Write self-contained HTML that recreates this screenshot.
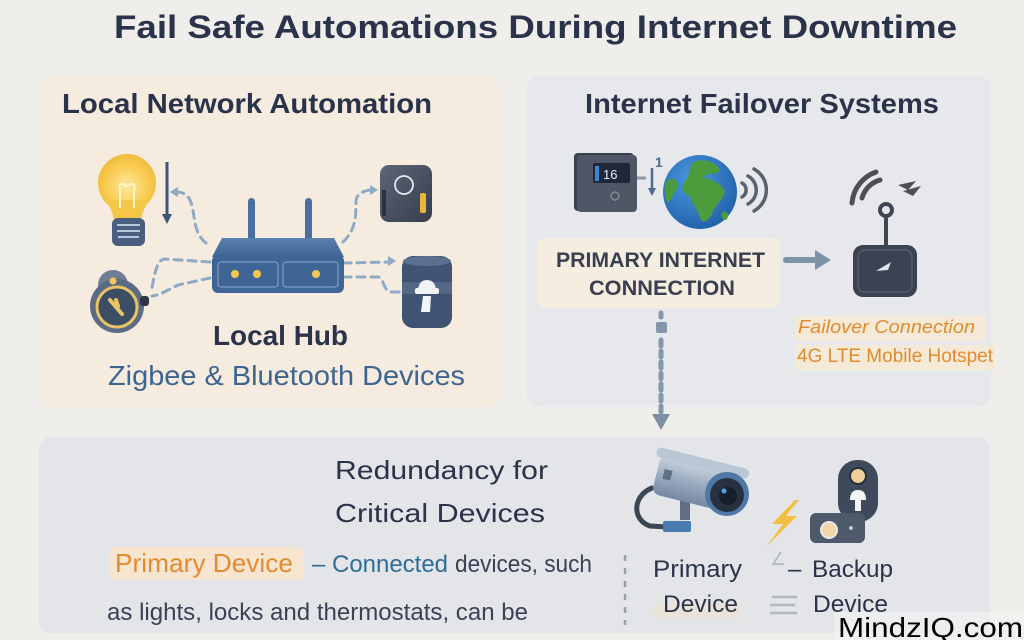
<!DOCTYPE html>
<html>
<head>
<meta charset="utf-8">
<style>
  html,body{margin:0;padding:0;background:#efeeeb;}
  svg{display:block;}
  text{font-family:"Liberation Sans","DejaVu Sans",sans-serif;}
</style>
</head>
<body>
<svg width="1024" height="640" viewBox="0 0 1024 640" xmlns="http://www.w3.org/2000/svg">
  <defs>
    <radialGradient id="bulbG" cx="0.5" cy="0.55" r="0.6">
      <stop offset="0" stop-color="#fde7a0"/>
      <stop offset="0.6" stop-color="#f8cc4f"/>
      <stop offset="1" stop-color="#f0b63a"/>
    </radialGradient>
    <linearGradient id="routerTop" x1="0" y1="0" x2="0" y2="1">
      <stop offset="0" stop-color="#5a80ad"/>
      <stop offset="1" stop-color="#3f6596"/>
    </linearGradient>
    <linearGradient id="darkDev" x1="0" y1="0" x2="1" y2="1">
      <stop offset="0" stop-color="#5d6678"/>
      <stop offset="1" stop-color="#363e4c"/>
    </linearGradient>
    <linearGradient id="camG" x1="0" y1="0" x2="0" y2="1">
      <stop offset="0" stop-color="#c9d3df"/>
      <stop offset="0.5" stop-color="#9aabc0"/>
      <stop offset="1" stop-color="#7689a2"/>
    </linearGradient>
    <radialGradient id="globeG" cx="0.4" cy="0.35" r="0.7">
      <stop offset="0" stop-color="#4a9ae0"/>
      <stop offset="1" stop-color="#1f5fa8"/>
    </radialGradient>
  </defs>

  <rect width="1024" height="640" fill="#efeeeb"/>

  <!-- Title -->
  <text x="114" y="38" font-size="32" font-weight="bold" fill="#2a3349" textLength="843" lengthAdjust="spacingAndGlyphs">Fail Safe Automations During Internet Downtime</text>

  <!-- Panels -->
  <rect x="40" y="77" width="459" height="330" rx="12" fill="#f5ebde"/>
  <rect x="527" y="76" width="464" height="331" rx="12" fill="#e6e8ec"/>
  <rect x="39" y="437" width="951" height="196" rx="12" fill="#e3e5e9"/>

  <!-- ===== Left panel ===== -->
  <text x="62" y="113" font-size="28" font-weight="bold" fill="#2a3349" textLength="370" lengthAdjust="spacingAndGlyphs">Local Network Automation</text>

  <!-- dashed connectors -->
  <g fill="none" stroke="#8eaac6" stroke-width="3" stroke-dasharray="8 6" stroke-linecap="round">
    <path d="M206,243 C192,232 196,214 190,200 C187,194 182,192 176,192"/>
    <path d="M210,262 L165,259 C158,259 155,270 152,288"/>
    <path d="M210,278 L178,285 C168,290 160,295 152,296"/>
    <path d="M343,242 C356,230 356,215 356,202 C356,194 364,190 372,190"/>
    <path d="M343,263 L390,262"/>
    <path d="M343,277 L378,277 C384,277 383,292 392,292 L402,292"/>
  </g>
  <polygon points="170,192 178,187 178,197" fill="#8eaac6"/>
  <polygon points="378,190 370,185 370,195" fill="#8eaac6"/>
  <polygon points="396,261 388,256 388,266" fill="#8eaac6"/>

  <!-- bulb -->
  <circle cx="127" cy="183" r="29" fill="url(#bulbG)"/>
  <path d="M106,200 Q113,212 114,220 L141,220 Q142,212 149,200 Z" fill="#f5c648"/>
  <path d="M120,208 L120,190 Q118,183 124,184 Q127,188 130,184 Q136,183 134,190 L134,208" fill="none" stroke="#fff3c8" stroke-width="2"/>
  <rect x="112" y="218" width="33" height="28" rx="6" fill="#4a5e80"/>
  <g stroke="#b8c6da" stroke-width="2">
    <line x1="117" y1="225" x2="140" y2="225"/>
    <line x1="117" y1="231" x2="140" y2="231"/>
    <line x1="118" y1="237" x2="139" y2="237"/>
  </g>

  <!-- vertical arrow -->
  <line x1="167" y1="162" x2="167" y2="216" stroke="#3d5578" stroke-width="3"/>
  <polygon points="162,214 172,214 167,224" fill="#3d5578"/>

  <!-- lock device bottom-left -->
  <circle cx="113" cy="285" r="15" fill="#6f7d95"/>
  <circle cx="117" cy="306" r="27" fill="#5b6b85"/>
  <circle cx="113" cy="281" r="3.5" fill="#f0c95a"/>
  <rect x="140" y="296" width="9" height="10" rx="3" fill="#2e3646"/>
  <circle cx="117" cy="307" r="20" fill="#3c4d66" stroke="#e8c463" stroke-width="3"/>
  <path d="M110,300 L122,314 M116,300 L118,306" stroke="#e8c463" stroke-width="4" stroke-linecap="round"/>

  <!-- router -->
  <rect x="248" y="198" width="7" height="44" rx="3.5" fill="#4a6fa0"/>
  <rect x="305" y="198" width="7" height="44" rx="3.5" fill="#4a6fa0"/>
  <polygon points="222,238 334,238 344,257 212,257" fill="url(#routerTop)"/>
  <rect x="212" y="255" width="132" height="38" rx="6" fill="#3f6596"/>
  <rect x="218" y="262" width="60" height="25" rx="3" fill="none" stroke="#7e9ec4" stroke-width="1.2"/>
  <rect x="283" y="262" width="55" height="25" rx="3" fill="none" stroke="#7e9ec4" stroke-width="1.2"/>
  <circle cx="235" cy="274" r="4" fill="#f4c84f"/>
  <circle cx="257" cy="274" r="4" fill="#f4c84f"/>
  <circle cx="316" cy="274" r="4" fill="#f4c84f"/>

  <!-- top-right sensor -->
  <rect x="380" y="165" width="52" height="57" rx="9" fill="url(#darkDev)"/>
  <circle cx="404" cy="185" r="9" fill="none" stroke="#e6e8ee" stroke-width="1.8"/>
  <rect x="420" y="193" width="6" height="20" rx="2" fill="#e8b73c"/>
  <rect x="382" y="190" width="4" height="26" fill="#2c323d"/>

  <!-- bottom-right lock cylinder -->
  <rect x="402" y="256" width="50" height="72" rx="11" fill="#3f5372"/>
  <ellipse cx="427" cy="261" rx="24" ry="5" fill="#5b6f8e"/>
  <rect x="402" y="282" width="50" height="12" fill="#536886"/>
  <path d="M418,292 Q418,280 427,280 Q436,280 436,292 Z" fill="#f2f3f5"/>
  <rect x="415" y="288" width="24" height="6" rx="2" fill="#f2f3f5"/>
  <path d="M423,296 L431,296 L430,312 L421,312 Z" fill="#f2f3f5"/>

  <text x="213" y="345" font-size="28" font-weight="bold" fill="#2a3349" textLength="135" lengthAdjust="spacingAndGlyphs">Local Hub</text>
  <text x="108" y="385" font-size="28" fill="#3d6590" textLength="357" lengthAdjust="spacingAndGlyphs">Zigbee &amp; Bluetooth Devices</text>

  <!-- ===== Right panel ===== -->
  <text x="585" y="113" font-size="28" font-weight="bold" fill="#2a3349" textLength="354" lengthAdjust="spacingAndGlyphs">Internet Failover Systems</text>

  <!-- modem -->
  <rect x="574" y="153" width="60" height="58" rx="4" fill="#3a414e"/>
  <rect x="577" y="155" width="60" height="57" rx="4" fill="#4f5766"/>
  <rect x="593" y="163" width="37" height="20" rx="2" fill="#1f2838"/>
  <rect x="595" y="166" width="4" height="15" fill="#3a86d8"/>
  <text x="603" y="179" font-size="13" fill="#e8eef6">16</text>
  <circle cx="615" cy="196" r="4" fill="none" stroke="#8b93a0" stroke-width="1.2"/>
  <line x1="637" y1="178" x2="646" y2="178" stroke="#8f9aa8" stroke-width="3"/>
  <!-- small arrows -->
  <line x1="652" y1="168" x2="652" y2="190" stroke="#4d6a92" stroke-width="2.5"/>
  <polygon points="648,188 656,188 652,196" fill="#4d6a92"/>
  <text x="655" y="167" font-size="14" font-weight="bold" fill="#4d6a92">1</text>

  <!-- globe -->
  <circle cx="700" cy="192" r="37" fill="url(#globeG)"/>
  <path d="M694,162 C704,158 716,162 720,170 C716,176 708,172 703,177 C712,180 722,183 725,192 C722,202 714,206 712,214 C708,222 702,224 700,218 C698,210 692,204 690,196 C682,194 680,186 686,180 C690,176 688,168 694,162 Z" fill="#4c9b3c"/>
  <path d="M668,180 C674,176 680,182 676,190 C672,196 670,206 666,200 C664,192 664,184 668,180 Z" fill="#4c9b3c"/>
  <path d="M722,212 C728,210 730,216 726,220 C722,220 720,216 722,212 Z" fill="#4c9b3c"/>

  <!-- wifi arcs near globe -->
  <g fill="none" stroke="#5a616c" stroke-width="3.5" stroke-linecap="round">
    <path d="M742,183 A8,8 0 0 1 742,197"/>
    <path d="M748,176 A16,16 0 0 1 748,204"/>
    <path d="M754,169 A24,24 0 0 1 754,211"/>
  </g>

  <!-- primary internet box -->
  <rect x="537" y="238" width="243" height="70" rx="8" fill="#f6ede1"/>
  <text x="556" y="267" font-size="21" font-weight="bold" fill="#3a3f50" textLength="209" lengthAdjust="spacingAndGlyphs">PRIMARY INTERNET</text>
  <text x="589" y="295" font-size="21" font-weight="bold" fill="#3a3f50" textLength="146" lengthAdjust="spacingAndGlyphs">CONNECTION</text>

  <!-- arrow to hotspot -->
  <line x1="786" y1="260" x2="818" y2="260" stroke="#7f93a8" stroke-width="6" stroke-linecap="round"/>
  <polygon points="815,250 831,260 815,270" fill="#7f93a8"/>

  <!-- hotspot -->
  <g fill="none" stroke="#4f4e57" stroke-width="5" stroke-linecap="round">
    <path d="M862,198 A26,26 0 0 1 880,180"/>
    <path d="M852,203 A36,36 0 0 1 876,172"/>
  </g>
  <path d="M898,185 L916,181 L908,190 Z M903,191 L921,186 L913,196 Z" fill="#4f4e57"/>
  <line x1="886" y1="215" x2="886" y2="247" stroke="#3f4552" stroke-width="4"/>
  <circle cx="886" cy="210" r="6" fill="none" stroke="#3f4552" stroke-width="4"/>
  <rect x="853" y="245" width="64" height="52" rx="10" fill="#3b4352"/>
  <rect x="858" y="250" width="54" height="42" rx="7" fill="none" stroke="#5a6372" stroke-width="1.2"/>
  <path d="M876,271 L888,270 L891,262 Z" fill="#dfe3ea"/>

  <!-- failover labels -->
  <rect x="795" y="316" width="190" height="25" fill="#f5e9d8"/>
  <text x="798" y="333" font-size="18" font-style="italic" fill="#e08c2e" textLength="177" lengthAdjust="spacingAndGlyphs">Failover Connection</text>
  <rect x="795" y="345" width="200" height="25" fill="#f5e9d8"/>
  <text x="797" y="362" font-size="19" fill="#e08c2e" textLength="196" lengthAdjust="spacingAndGlyphs">4G LTE Mobile Hotspet</text>

  <!-- dashed vertical arrow -->
  <line x1="661" y1="313" x2="661" y2="317" stroke="#8496ac" stroke-width="5" stroke-linecap="round"/>
  <rect x="656" y="322" width="11" height="11" rx="2" fill="#8496ac"/>
  <line x1="661" y1="340" x2="661" y2="412" stroke="#8496ac" stroke-width="5" stroke-dasharray="6 5" stroke-linecap="round"/>
  <polygon points="652,414 670,414 661,430" fill="#7f8fa3"/>

  <!-- ===== Bottom panel ===== -->
  <text x="335" y="479" font-size="26" fill="#2a3349" textLength="213" lengthAdjust="spacingAndGlyphs">Redundancy for</text>
  <text x="335" y="522" font-size="26" fill="#2a3349" textLength="210" lengthAdjust="spacingAndGlyphs">Critical Devices</text>

  <rect x="110" y="547" width="193" height="33" rx="5" fill="#f7e5cf"/>
  <text x="115" y="572" font-size="26" fill="#e38b2f" textLength="178" lengthAdjust="spacingAndGlyphs">Primary Device</text>
  <text x="312" y="572" font-size="24" fill="#2e6d98">–</text>
  <text x="332" y="572" font-size="24" fill="#2e6d98" textLength="116" lengthAdjust="spacingAndGlyphs">Connected</text>
  <text x="455" y="572" font-size="24" fill="#3a4256" textLength="137" lengthAdjust="spacingAndGlyphs">devices, such</text>
  <text x="107" y="620" font-size="24" fill="#3a4256" textLength="421" lengthAdjust="spacingAndGlyphs">as lights, locks and thermostats, can be</text>

  <!-- dashed separator -->
  <line x1="625" y1="555" x2="625" y2="625" stroke="#9aa0a8" stroke-width="2.5" stroke-dasharray="6 7"/>

  <!-- camera -->
  <path d="M652,488 C632,496 632,520 650,526 L668,527" fill="none" stroke="#3c4654" stroke-width="5" stroke-linecap="round"/>
  <rect x="663" y="521" width="28" height="11" rx="2" fill="#4a7ab0"/>
  <rect x="680" y="500" width="10" height="20" fill="#5f6e82"/>
  <g transform="rotate(14 700 485)">
    <rect x="655" y="465" width="85" height="40" rx="8" fill="url(#camG)"/>
    <rect x="650" y="458" width="95" height="10" rx="5" fill="#b8c6d6"/>
    <rect x="662" y="478" width="8" height="10" fill="#5e6f86"/>
  </g>
  <circle cx="727" cy="494" r="22" fill="#4f78a6"/>
  <circle cx="727" cy="495" r="17" fill="#28313f"/>
  <circle cx="728" cy="496" r="9" fill="#16202c"/>
  <circle cx="724" cy="491" r="2.5" fill="#4fa3e8"/>

  <!-- lightning -->
  <polygon points="795,500 772,524 783,524 766,547 797,516 786,516 799,500" fill="#f2c040"/>

  <!-- backup lock -->
  <rect x="838" y="460" width="40" height="62" rx="19" fill="#3e4a5c"/>
  <circle cx="858" cy="476" r="8" fill="#f0cf97" stroke="#252d3a" stroke-width="2"/>
  <path d="M850,500 Q850,490 858,490 Q866,490 866,500 Z" fill="#f4f5f7"/>
  <rect x="855" y="499" width="6" height="12" fill="#f4f5f7"/>
  <rect x="810" y="513" width="55" height="30" rx="6" fill="#4e5a6c"/>
  <circle cx="829" cy="530" r="8" fill="#f0d6a8" stroke="#e8e8e8" stroke-width="2"/>
  <circle cx="851" cy="528" r="2" fill="#c0c6d0"/>

  <!-- labels -->
  <rect x="653" y="603" width="88" height="16" fill="#ece2d3" opacity="0.7"/>
  <text x="653" y="577" font-size="24" fill="#2a3349" textLength="89" lengthAdjust="spacingAndGlyphs">Primary</text>
  <text x="663" y="612" font-size="24" fill="#2a3349" textLength="75" lengthAdjust="spacingAndGlyphs">Device</text>
  <text x="770" y="565" font-size="18" fill="#b4bac4">∠</text>
  <text x="788" y="577" font-size="24" fill="#2a3349">–</text>
  <text x="812" y="577" font-size="24" fill="#2a3349" textLength="81" lengthAdjust="spacingAndGlyphs">Backup</text>
  <g stroke="#b4bac4" stroke-width="2.5">
    <line x1="772" y1="597" x2="797" y2="597"/>
    <line x1="770" y1="605" x2="795" y2="605"/>
    <line x1="770" y1="613" x2="797" y2="613"/>
  </g>
  <text x="813" y="612" font-size="24" fill="#2a3349" textLength="75" lengthAdjust="spacingAndGlyphs">Device</text>

  <!-- watermark -->
  <rect x="834" y="612" width="190" height="28" fill="#f4f4f4" opacity="0.6"/>
  <text x="838" y="637" font-size="28" fill="#000" textLength="185" lengthAdjust="spacingAndGlyphs">MindzIQ.com</text>
</svg>
</body>
</html>
